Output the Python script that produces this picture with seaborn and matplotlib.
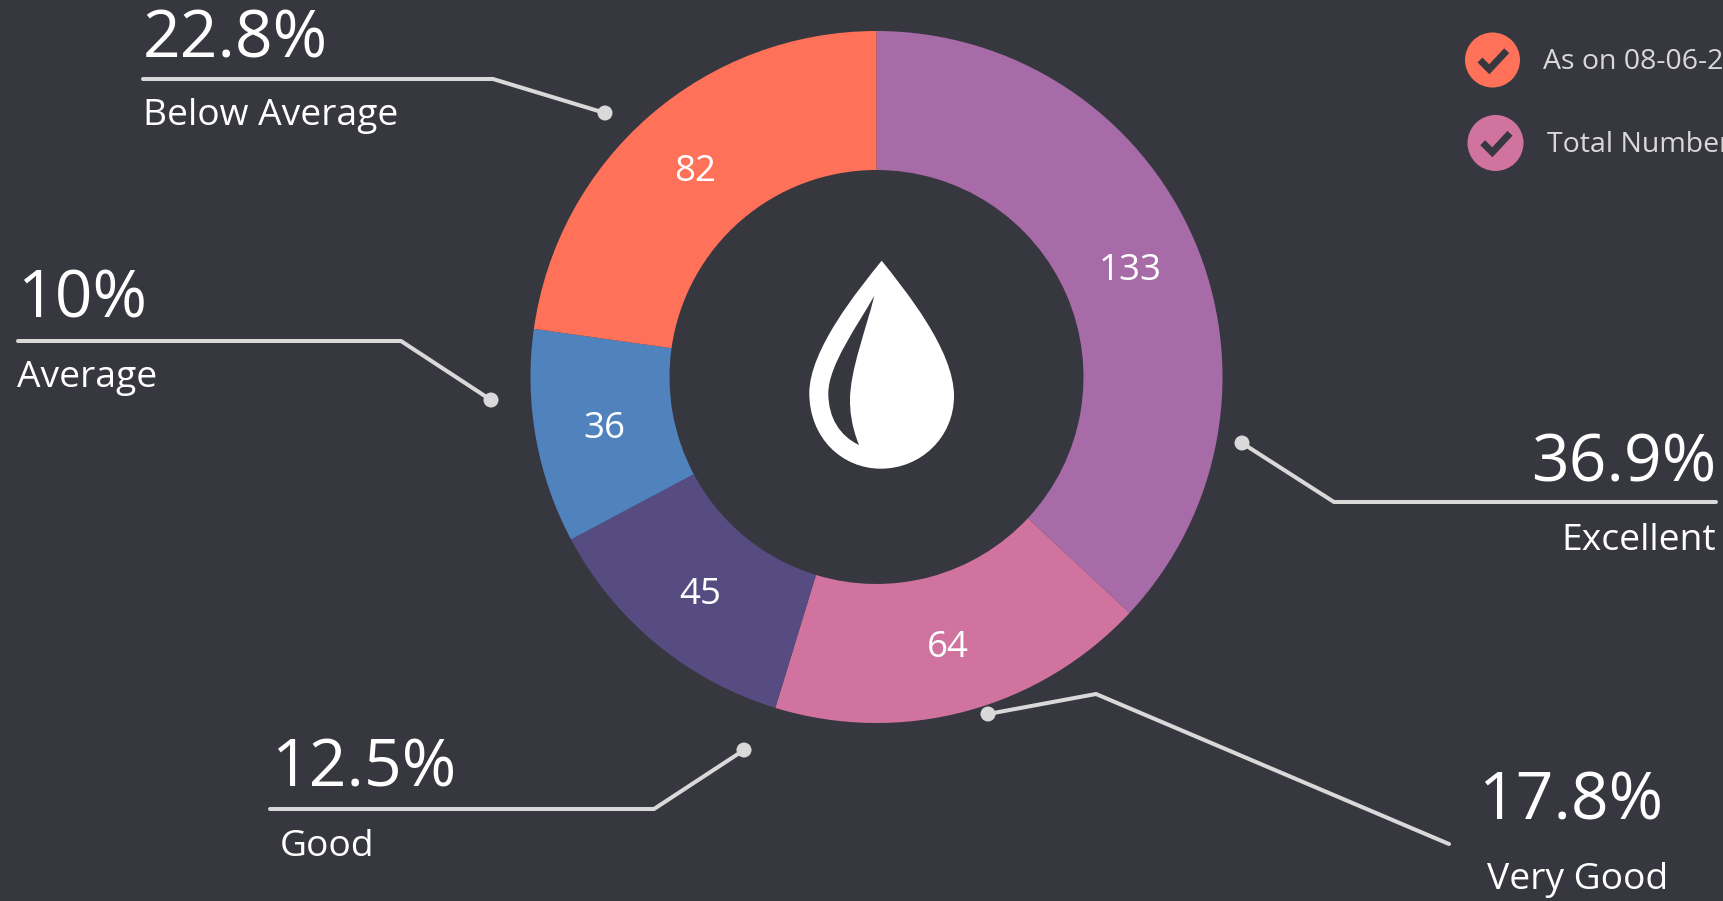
import matplotlib
matplotlib.use("Agg")
import matplotlib.pyplot as plt
from matplotlib.patches import Circle, PathPatch
from matplotlib.path import Path
import seaborn as sns

categories = ["Excellent", "Very Good", "Good", "Average", "Below Average"]
counts = [133, 64, 45, 36, 82]
percents = ["36.9%", "17.8%", "12.5%", "10%", "22.8%"]
legend_labels = ["As on 08-06-2", "Total Number"]

BG = "#36373F"
LINE = "#D9D9D9"
palette = sns.color_palette(["#A76BA8", "#D0749F", "#564C82", "#5083BD", "#FF7159"])

sns.set_theme(style="dark", rc={"figure.facecolor": BG, "axes.facecolor": BG, "savefig.facecolor": BG})
plt.rcParams["font.family"] = ["Open Sans", "DejaVu Sans"]

W, H = 1724, 901
fig = plt.figure(figsize=(W / 100, H / 100), dpi=100)
ax = fig.add_axes([0, 0, 1, 1])

total = sum(counts)
wedges, _, autotexts = ax.pie(
    counts, colors=palette, center=(876.5, 377), radius=346, startangle=-90, counterclock=True,
    frame=True, wedgeprops={"width": 139, "linewidth": 0},
    autopct=lambda p: f"{round(p * total / 100)}", pctdistance=0.8,
    textprops={"color": "white", "fontsize": 26.5},
)
for t in autotexts:
    t.set_y(t.get_position()[1] + 4)
ax.set_xlim(0, W)
ax.set_ylim(H, 0)
ax.set_aspect("equal")
ax.axis("off")

# callouts: polyline ending in a dot, big percent, category label
callouts = [
    (4, [(143, 79), (493, 79), (605, 113)], (143, 40), "left", (143, 116), "left"),
    (3, [(18, 341), (401, 341), (491, 400)], (17, 301), "left", (17, 378), "left"),
    (0, [(1716, 502), (1334, 502), (1242, 443)], (1716, 464), "right", (1716, 541), "right"),
    (1, [(1449, 844), (1096, 694), (988, 714)], (1571, 803), "center", (1578, 880), "center"),
    (2, [(270, 809), (654, 809), (744, 750)], (271, 770), "left", (280, 847), "left"),
]
for i, pts, ptxt, pha, ltxt, lha in callouts:
    ax.plot(*zip(*pts), color=LINE, lw=2.9, solid_joinstyle="miter", zorder=3)
    ax.add_patch(Circle(pts[-1], 7.5, fc=LINE, ec="none", zorder=4))
    ax.text(*ptxt, percents[i], color="white", fontsize=47.5, ha=pha, va="center")
    ax.text(*ltxt, categories[i], color="white", fontsize=26.8, ha=lha, va="center")

# legend badges
badges = [
    ((1492.5, 60), 27.5, palette[4], [(1480, 60), (1489.3, 69.3), (1506.7, 50.7)], (1543, 62)),
    ((1495.5, 143), 28, palette[1], [(1482.7, 142.7), (1492.3, 152.3), (1510, 133.3)], (1547, 145)),
]
for (c, r, col, chk, tpos), label in zip(badges, legend_labels):
    ax.add_patch(Circle(c, r, fc=col, ec="none"))
    ax.plot(*zip(*chk), color=BG, lw=5, solid_joinstyle="miter", solid_capstyle="butt")
    ax.text(*tpos, label, color=LINE, fontsize=20.5, ha="left", va="center")

# droplet icon, outer shape with a leaf-shaped cut-out
verts = [
    (881.7, 260.7),
    (905, 290), (954, 350), (954, 396),
    (954, 438), (920, 468.7), (881, 468.7),
    (842, 468.7), (809.3, 438), (809.3, 393),
    (809.3, 350), (858, 290), (881.7, 260.7),
    (881.7, 260.7),
    (874.3, 295.7),
    (858, 325), (828.3, 365), (828.3, 393.3),
    (828.3, 418), (840, 436), (859, 445),
    (851, 425), (850, 410), (850, 400),
    (850, 370), (866, 330), (874.3, 295.7),
    (874.3, 295.7),
]
codes = [Path.MOVETO] + [Path.CURVE4] * 12 + [Path.CLOSEPOLY] + [Path.MOVETO] + [Path.CURVE4] * 12 + [Path.CLOSEPOLY]
ax.add_patch(PathPatch(Path(verts, codes), fc="white", ec="none"))

fig.savefig("out.png", dpi=100)
